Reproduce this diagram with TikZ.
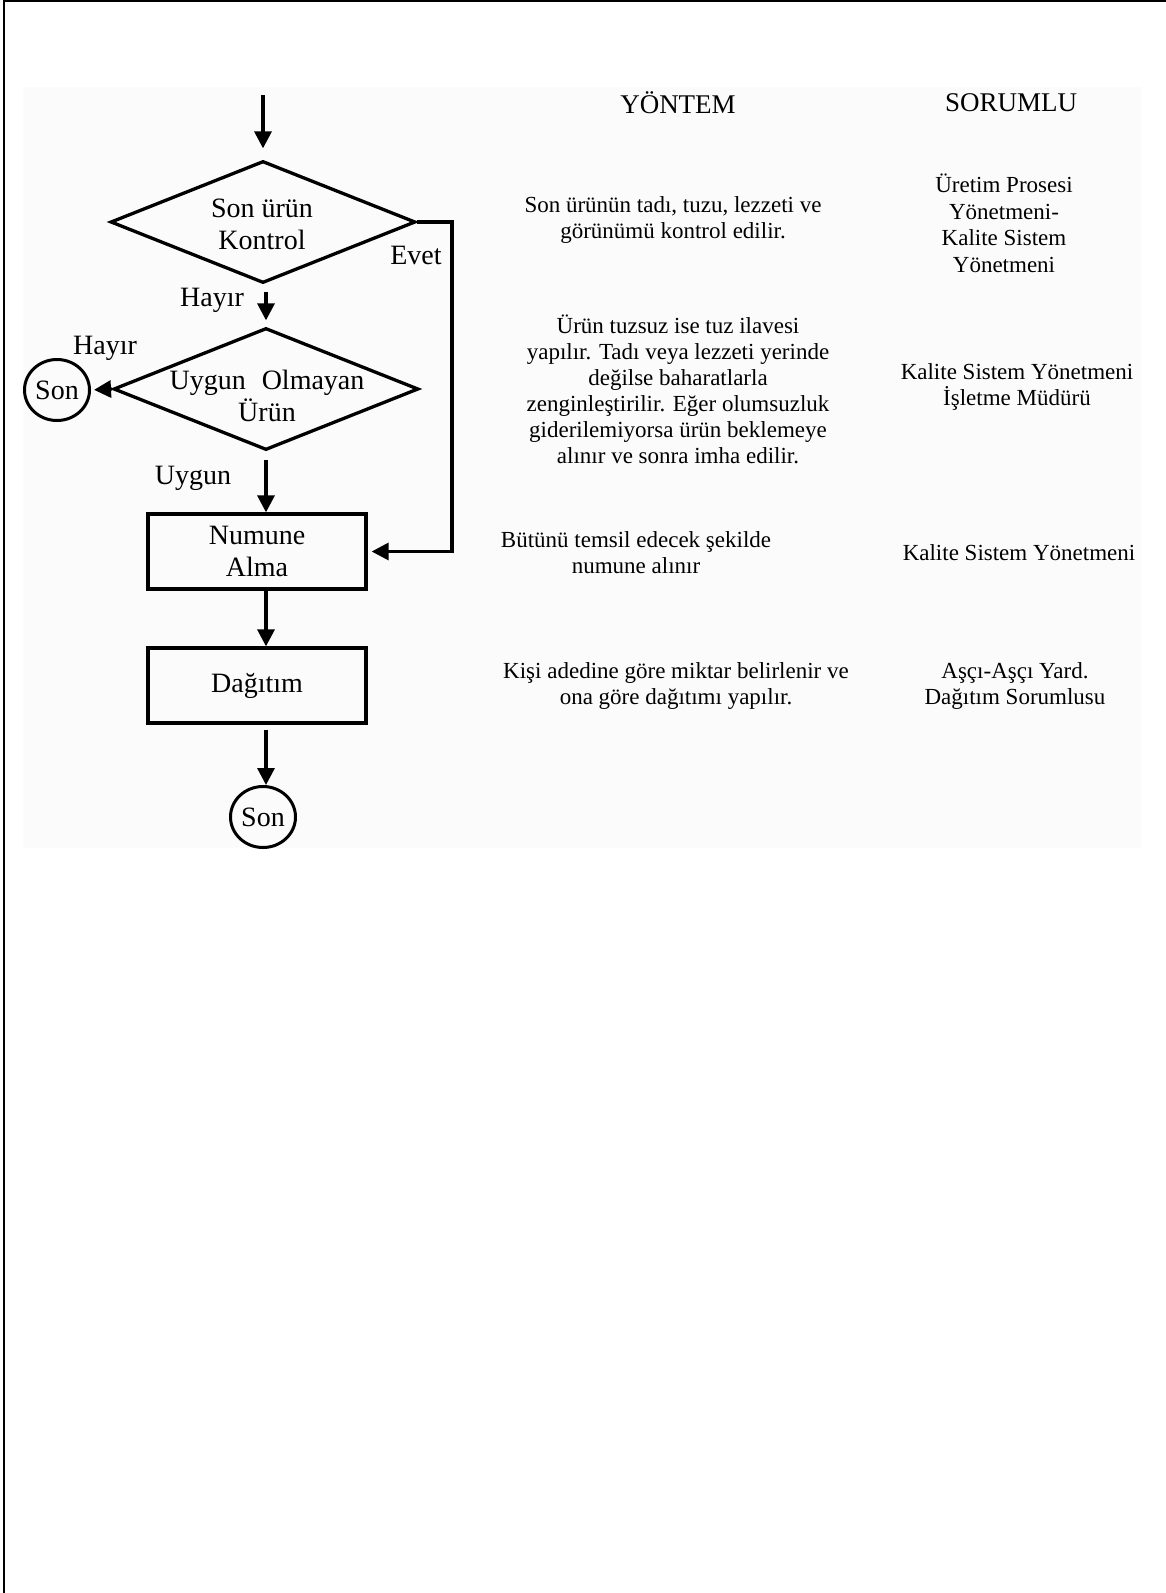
\documentclass[tikz,border=0pt]{standalone}
\usepackage{fontspec}
\setmainfont{Liberation Serif}
\usetikzlibrary{arrows.meta,shapes.geometric}

\begin{document}
\begin{tikzpicture}[x=1pt,y=-1pt,
  line width=3.3pt,
  arr/.style={-{Triangle[length=17pt,width=17pt]}, line width=3.3pt},
  fc/.style={font=\fontsize{28}{32}\selectfont, align=center, inner sep=0pt},
  dec/.style={draw, diamond, minimum width=305pt, minimum height=122pt, inner sep=0pt},
  stepbox/.style={draw, rectangle, minimum width=218pt, minimum height=75pt,
    inner sep=0pt, align=center, font=\fontsize{28}{32}\selectfont},
  endnode/.style={draw, ellipse, minimum width=65pt, minimum height=61pt,
    inner sep=0pt, line width=3pt, font=\fontsize{28}{32}\selectfont},
  head/.style={font=\fontsize{27}{31}\selectfont, inner sep=0pt},
  col/.style={font=\fontsize{23}{26}\selectfont, align=center, inner sep=0pt},
]
\useasboundingbox (0,0) rectangle (1166,1593);

% page frame and shaded panel
\fill[black!1.5] (23,87) rectangle (1141,848);
\draw[line width=2pt] (4,1593) -- (4,1) -- (1166,1);

% flowchart shapes
\coordinate (start) at (263,95);
\node[dec] (d1) at (263,222) {};
\node[fc] (d1t) at (262,224) {Son ürün\\Kontrol};
\node[dec] (d2) at (266,389) {};
\node[fc] (d2t) at (267,396) {Uygun\hspace{16pt}Olmayan\\Ürün};
\node[endnode] (son1) at (57,390) {Son};
\node[stepbox] (b1) at (257,551.5) {Numune\\Alma};
\node[stepbox] (b2) at (257,685.5) {Dağıtım};
\node[endnode] (son2) at (263,817) {Son};

% branch labels
\node[fc] (levet) at (416,255) {Evet};
\node[fc] (lhayir1) at (212,300) {Hayır};
\node[fc] (lhayir2) at (105,348) {Hayır};
\node[fc] (luygun) at (193,478) {Uygun};

% connectors
\draw[arr, shorten >=11pt] (start) -- (d1.north);
\draw[arr, shorten <=7pt, shorten >=6pt] (d1.south -| d2.north) -- (d2.north);
\draw[arr, shorten <=8pt] (d2.south) -- (d2.south |- b1.north);
\draw[arr] (b1.south -| d2.south) -- (b2.north -| d2.south);
\draw[arr, shorten <=5pt] (b2.south -| d2.south) -- (son2.north -| d2.south);
\draw[arr, shorten >=3pt] (d2.west) -- (son1.east);
\coordinate (evc) at (452,222);
\draw[arr, shorten >=4pt] (d1.east) -- (evc) |- (b1.east);

% method and responsibility columns
\node[head] (hy) at (678,103) {YÖNTEM};
\node[head] (hs) at (1011,103) {SORUMLU};
\node[col] (y1) at (673,220) {Son ürünün tadı, tuzu, lezzeti ve\\görünümü kontrol edilir.};
\node[col, font=\fontsize{23}{26.5}\selectfont] (s1) at (1004,223.5) {Üretim Prosesi\\Yönetmeni-\\Kalite Sistem\\Yönetmeni};
\node[col] (y2) at (678,389.5) {Ürün tuzsuz ise tuz ilavesi\\yapılır. Tadı veya lezzeti yerinde\\değilse baharatlarla\\zenginleştirilir. Eğer olumsuzluk\\giderilemiyorsa ürün beklemeye\\alınır ve sonra imha edilir.};
\node[col] (s2) at (1017,386.5) {Kalite Sistem Yönetmeni\\İşletme Müdürü};
\node[col] (y3) at (636,553) {Bütünü temsil edecek şekilde\\numune alınır};
\node[col] (s3) at (1019,553) {Kalite Sistem Yönetmeni};
\node[col] (y4) at (676,685.5) {Kişi adedine göre miktar belirlenir ve\\ona göre dağıtımı yapılır.};
\node[col] (s4) at (1015,685.5) {Aşçı-Aşçı Yard.\\Dağıtım Sorumlusu};
\end{tikzpicture}
\end{document}
